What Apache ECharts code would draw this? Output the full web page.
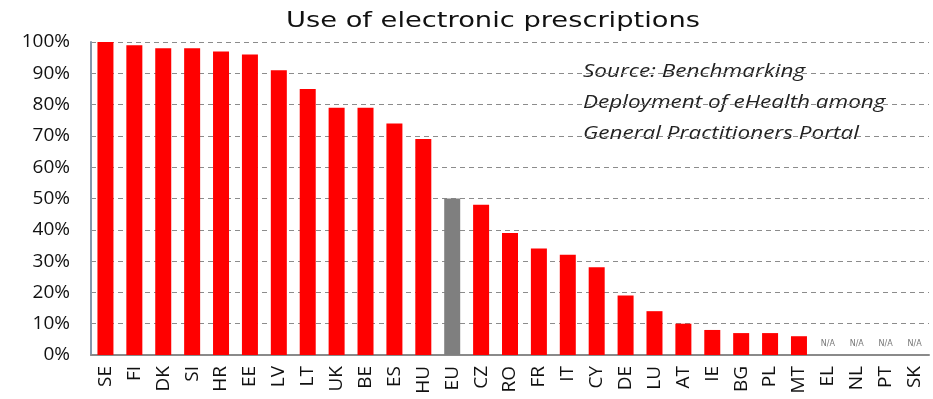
<!DOCTYPE html>
<html>
<head>
<meta charset="utf-8">
<script src="https://cdn.jsdelivr.net/npm/echarts@6/dist/echarts.min.js"></script>
<style>
html,body{margin:0;padding:0;background:#fff;}
#chart{width:933px;height:399px;}
</style>
</head>
<body>
<div id="chart"></div>
<script>
const categories = ['SE','FI','DK','SI','HR','EE','LV','LT','UK','BE','ES','HU','EU','CZ','RO','FR','IT','CY','DE','LU','AT','IE','BG','PL','MT','EL','NL','PT','SK'];
const values = [100,99,98,98,97,96,91,85,79,79,74,69,50,48,39,34,32,28,19,14,10,8,7,7,6,null,null,null,null];
const yTicks = [0,10,20,30,40,50,60,70,80,90,100];
const highlight = 'EU';
const titleText = 'Use of electronic prescriptions';
const noteLines = ['Source: Benchmarking','Deployment of eHealth among','General Practitioners Portal'];

const data = values.map((v, i) => {
  if (v === null) {
    return {value: 0, label: {show: true, formatter: 'N/A', position: 'top', distance: 7, fontSize: 8, color: '#777', fontFamily: 'DejaVu Sans'}};
  }
  return {value: v, itemStyle: {color: categories[i] === highlight ? '#7f7f7f' : '#ff0000'}};
});

const chart = echarts.init(document.getElementById('chart'));
chart.setOption({
  animation: false,
  backgroundColor: '#fff',
  grid: {left: 91, right: 4, top: 42, bottom: 44},
  xAxis: {
    type: 'category', data: categories,
    axisLine: {lineStyle: {color: '#8a8a8a', width: 2}},
    axisTick: {show: false},
    axisLabel: {rotate: 90, fontFamily: 'Open Sans', fontSize: 19, color: '#111', margin: 11, interval: 0}
  },
  yAxis: {
    type: 'value', min: 0, max: 100, interval: 10,
    axisLine: {show: true, lineStyle: {color: '#8797ab', width: 2}},
    axisTick: {show: false},
    axisLabel: {formatter: v => yTicks.includes(v) ? v + '%' : '', fontFamily: 'Open Sans', fontSize: 19, color: '#111', margin: 21},
    splitLine: {lineStyle: {color: '#8c8c8c', type: [5, 4], width: 1}}
  },
  series: [{
    type: 'bar', data: data, barWidth: 16,
    itemStyle: {color: '#ff0000'}
  }],
  graphic: [
    {
      type: 'text', x: 493, y: 22, scaleX: 1.3,
      style: {text: titleText, font: '21px "DejaVu Sans"', fill: '#111', align: 'center', verticalAlign: 'middle'}
    }
  ].concat(noteLines.map((t, i) => ({
    type: 'text', x: 583, y: 72 + i * 31, scaleX: 1.25,
    style: {text: t, font: 'italic 18px "Open Sans"', fill: '#222', align: 'left', verticalAlign: 'middle'}
  })))
});
</script>
</body>
</html>
